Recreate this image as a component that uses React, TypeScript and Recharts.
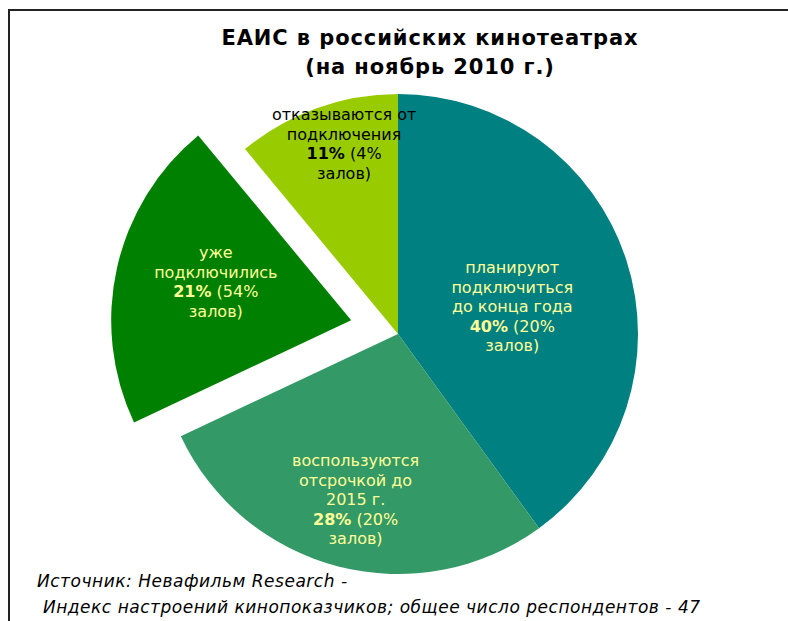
import React from "react";
import { PieChart, Pie, Cell } from "recharts";

// ---- data ----
const categories = [
  "планируют подключиться до конца года",
  "воспользуются отсрочкой до 2015 г.",
  "уже подключились",
  "отказываются от подключения",
];
const labelLines = [
  ["планируют", "подключиться", "до конца года"],
  ["воспользуются", "отсрочкой до", "2015 г."],
  ["уже", "подключились"],
  ["отказываются от", "подключения"],
];
const shares = [40, 28, 21, 11];
const hallShares = [20, 20, 54, 4];
const titleLines = ["ЕАИС в российских кинотеатрах", "(на ноябрь 2010 г.)"];
const footerLines = [
  "Источник: Невафильм Research -",
  " Индекс настроений кинопоказчиков; общее число респондентов - 47",
];

// ---- styling ----
const COLORS = ["#008080", "#339966", "#008000", "#99CC00"];
const TEXT_COLORS = ["#FFFF99", "#FFFF99", "#FFFF99", "#000000"];
const EXPLODED = 2;
const EXPLODE_DIST = 49;
const LABEL_R = [0.49, 0.71, 0.59, 0.825];
const LABEL_SHIFT = [-4.3, 0, -4.5, -4];
const FONT = "'DejaVu Sans', Verdana, sans-serif";
const CX = 398;
const CY = 334;
const R = 240;
const RAD = Math.PI / 180;

const data = categories.map((name, i) => ({
  name,
  value: shares[i],
  halls: hallShares[i],
  lines: labelLines[i],
}));

const total = shares.reduce((a, b) => a + b, 0);
const before = shares.slice(0, EXPLODED).reduce((a, b) => a + b, 0);
const explodeMid = 90 - (360 * (before + shares[EXPLODED] / 2)) / total;
const EX_DX = EXPLODE_DIST * Math.cos(explodeMid * RAD) + 1;
const EX_DY = -EXPLODE_DIST * Math.sin(explodeMid * RAD) - 3;

const renderLabel = (props: any) => {
  const { cx, cy, midAngle, outerRadius, index } = props;
  const i = index;
  const d = data[i];
  let ox = cx;
  let oy = cy;
  if (i === EXPLODED) {
    ox += EX_DX;
    oy += EX_DY + 3;
  }
  const ang = (midAngle + LABEL_SHIFT[i]) * RAD;
  const r = outerRadius * LABEL_R[i];
  const x = ox + r * Math.cos(ang);
  const y = oy - r * Math.sin(ang);
  const lh = 19.5;
  const n = d.lines.length + 2;
  const y0 = y - ((n - 1) * lh) / 2;
  const fill = TEXT_COLORS[i];
  return (
    <text
      key={`lbl-${i}`}
      x={x}
      y={y0}
      textAnchor="middle"
      dominantBaseline="central"
      fill={fill}
      fontFamily={FONT}
      fontSize={16}
    >
      {d.lines.map((l: string, k: number) => (
        <tspan key={k} x={x} y={y0 + k * lh}>
          {l}
        </tspan>
      ))}
      <tspan x={x} y={y0 + d.lines.length * lh} fontWeight="bold">
        {`${d.value}%`}
      </tspan>
      <tspan>{` (${d.halls}%`}</tspan>
      <tspan x={x} y={y0 + (d.lines.length + 1) * lh}>
        залов)
      </tspan>
    </text>
  );
};

export default function App() {
  return (
    <div
      style={{
        position: "absolute",
        left: 0,
        top: 0,
        width: 788,
        height: 621,
        background: "#fff",
        overflow: "hidden",
      }}
    >
      <div
        style={{
          position: "absolute",
          left: 8,
          top: 9,
          width: 800,
          height: 700,
          borderTop: "2px solid #222",
          borderLeft: "2px solid #222",
        }}
      />
      <div style={{ position: "absolute", left: 0, top: 0 }}>
        <PieChart
          width={788}
          height={621}
          margin={{ top: 0, right: 0, bottom: 0, left: 0 }}
        >
          <Pie
            data={data}
            dataKey="value"
            cx={CX}
            cy={CY}
            outerRadius={R}
            startAngle={90}
            endAngle={-270}
            stroke="none"
            isAnimationActive={false}
            label={renderLabel}
            labelLine={false}
          >
            {data.map((_, i) => (
              <Cell key={i} fill={i === EXPLODED ? "none" : COLORS[i]} />
            ))}
          </Pie>
          <Pie
            data={data}
            dataKey="value"
            cx={CX + EX_DX}
            cy={CY + EX_DY}
            outerRadius={R}
            startAngle={90}
            endAngle={-270}
            stroke="none"
            isAnimationActive={false}
            label={false}
            labelLine={false}
          >
            {data.map((_, i) => (
              <Cell key={i} fill={i === EXPLODED ? COLORS[i] : "none"} />
            ))}
          </Pie>
        </PieChart>
      </div>
      <div
        style={{
          position: "absolute",
          left: 0,
          width: 860,
          top: 24,
          textAlign: "center",
          fontFamily: FONT,
          fontWeight: "bold",
          fontSize: 21,
          letterSpacing: "0.9px",
          lineHeight: "29px",
          color: "#000",
        }}
      >
        {titleLines.map((t, i) => (
          <div key={i}>{t}</div>
        ))}
      </div>
      <div
        style={{
          position: "absolute",
          left: 37,
          top: 568,
          fontFamily: FONT,
          fontStyle: "italic",
          fontSize: 17,
          letterSpacing: "0.52px",
          lineHeight: "26px",
          color: "#000",
          whiteSpace: "pre",
        }}
      >
        {footerLines.map((t, i) => (
          <div key={i}>{t}</div>
        ))}
      </div>
    </div>
  );
}
